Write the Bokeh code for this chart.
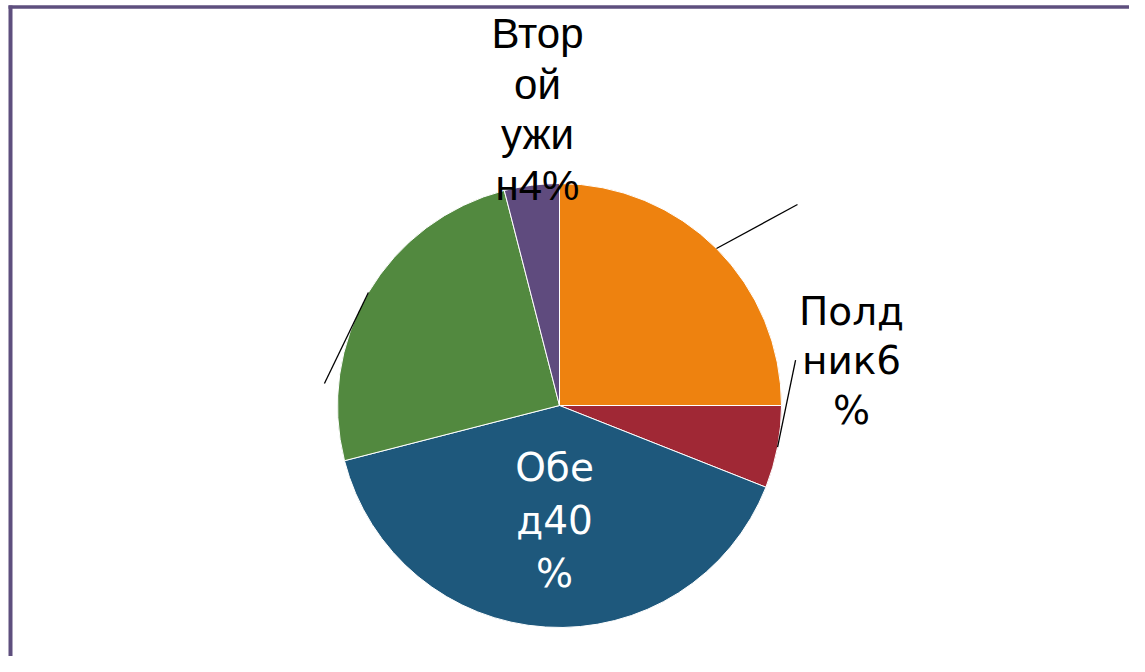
import math
from bokeh.plotting import figure
from bokeh.models import Range1d, ColumnDataSource
from bokeh.core.properties import value
from bokeh.embed import file_html
from bokeh.resources import INLINE

# ---- data ----
categories = ["Завтрак", "Полдник", "Обед", "Ужин", "Второй ужин"]
shares = [25, 6, 40, 25, 4]
colors = ["#EE820F", "#A02835", "#1E587C", "#52893F", "#5F4B7E"]

# visible data labels (wrapped as in the reference)
label_text = {
    "Полдник": "Полд\nник6\n%",
    "Обед": "Обе\nд40\n%",
    "Второй ужин": "Втор\nой\nужи\nн4%",
}

W, H = 1129, 656
p = figure(width=W, height=H, output_backend="svg", toolbar_location=None,
           x_range=Range1d(0, W), y_range=Range1d(0, H), min_border=0)
p.axis.visible = False
p.grid.visible = False
p.outline_line_color = None
p.background_fill_color = "white"
p.border_fill_color = "white"

def px(x):
    return x

def py(y):
    return H - y

cx, cy, R = px(559), py(405), 222

total = sum(shares)
starts, ends, mids = [], [], []
acc = 0
for v in shares:
    a0 = math.pi / 2 - 2 * math.pi * acc / total
    acc += v
    a1 = math.pi / 2 - 2 * math.pi * acc / total
    starts.append(a0)
    ends.append(a1)
    mids.append((a0 + a1) / 2)

src = ColumnDataSource(dict(cat=categories, val=shares, start=starts, end=ends, color=colors))
p.wedge(x=cx, y=cy, radius=R, radius_units="screen", start_angle="start", end_angle="end",
        direction="clock", fill_color="color", line_color="white", line_width=1, source=src)

# leader lines (orange, red, green)
leader_off = {"Завтрак": (81, 44), "Полдник": (18, 87), "Ужин": (-44, -91)}
for cat, (dx, dy) in leader_off.items():
    i = categories.index(cat)
    x0 = cx + R * math.cos(mids[i])
    y0 = cy + R * math.sin(mids[i])
    p.line([x0, x0 + dx], [y0, y0 + dy], line_color="black", line_width=1.3)

# labels
lab_pos = {
    "Полдник": (851, 360, "black", "DejaVu Sans", 39, 1.10),
    "Обед": (554, 520, "white", "DejaVu Sans", 39, 1.17),
    "Второй ужин": (537, 109, "black", "Liberation Sans", 42, 1.08),
}
for cat, (lx, ly, col, font, fs, lh) in lab_pos.items():
    p.text(x=[px(lx)], y=[py(ly)], text=[label_text[cat]], text_align="center",
           text_baseline="middle", text_color=col, text_font=value(font),
           text_font_size=f"{fs}px", text_line_height=lh)

# frame border (top and left, as in the reference)
border = "#5E4F7E"
p.segment(x0=[8], y0=[py(6.5)], x1=[W], y1=[py(6.5)], line_color=border, line_width=3.5)
p.segment(x0=[10], y0=[py(5)], x1=[10], y1=[0], line_color=border, line_width=4)

open("out.html", "w").write(file_html(p, INLINE))
